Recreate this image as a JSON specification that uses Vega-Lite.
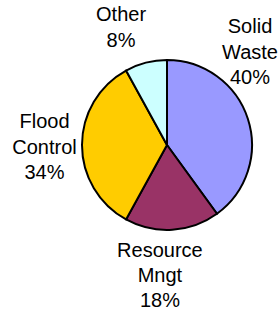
{
  "$schema": "https://vega.github.io/schema/vega-lite/v6.json",
  "width": 226,
  "height": 290,
  "autosize": {"type": "none"},
  "padding": {"left": 54, "top": 0, "right": 0, "bottom": 21},
  "background": "white",
  "view": {"stroke": null},
  "data": {
    "values": [
      {"category": "Solid Waste", "share": 40, "idx": 1, "label": "Solid\nWaste\n40%"},
      {"category": "Resource Mngt", "share": 18, "idx": 2, "label": "Resource\nMngt\n18%"},
      {"category": "Flood Control", "share": 34, "idx": 3, "label": "Flood\nControl\n34%"},
      {"category": "Other", "share": 8, "idx": 4, "label": "Other\n8%"}
    ]
  },
  "encoding": {
    "theta": {"field": "share", "type": "quantitative", "stack": true},
    "order": {"field": "idx", "type": "quantitative"}
  },
  "layer": [
    {
      "mark": {"type": "arc", "outerRadius": 85, "stroke": "black", "strokeWidth": 2},
      "encoding": {
        "color": {
          "field": "category",
          "type": "nominal",
          "scale": {
            "domain": ["Solid Waste", "Resource Mngt", "Flood Control", "Other"],
            "range": ["#9999FF", "#993366", "#FFCC00", "#CCFFFF"]
          },
          "legend": null
        }
      }
    },
    {
      "mark": {"type": "text", "radius": 110, "dx": -21.6, "dy": -84, "font": "Liberation Sans", "fontSize": 20, "lineBreak": "\n", "lineHeight": 25.5, "align": "center", "baseline": "middle", "color": "black"},
      "encoding": {"text": {"condition": {"test": "datum.category === 'Solid Waste'", "field": "label", "type": "nominal"}, "value": ""}}
    },
    {
      "mark": {"type": "text", "radius": 110, "dx": -14, "dy": -3.5, "font": "Liberation Sans", "fontSize": 20, "lineBreak": "\n", "lineHeight": 25, "align": "center", "baseline": "middle", "color": "black"},
      "encoding": {"text": {"condition": {"test": "datum.category === 'Resource Mngt'", "field": "label", "type": "nominal"}, "value": ""}}
    },
    {
      "mark": {"type": "text", "radius": 110, "dx": -12.5, "dy": -23, "font": "Liberation Sans", "fontSize": 20, "lineBreak": "\n", "lineHeight": 25.5, "align": "center", "baseline": "middle", "color": "black"},
      "encoding": {"text": {"condition": {"test": "datum.category === 'Flood Control'", "field": "label", "type": "nominal"}, "value": ""}}
    },
    {
      "mark": {"type": "text", "radius": 110, "dx": -18.6, "dy": -23, "font": "Liberation Sans", "fontSize": 20, "lineBreak": "\n", "lineHeight": 25.5, "align": "center", "baseline": "middle", "color": "black"},
      "encoding": {"text": {"condition": {"test": "datum.category === 'Other'", "field": "label", "type": "nominal"}, "value": ""}}
    }
  ]
}
